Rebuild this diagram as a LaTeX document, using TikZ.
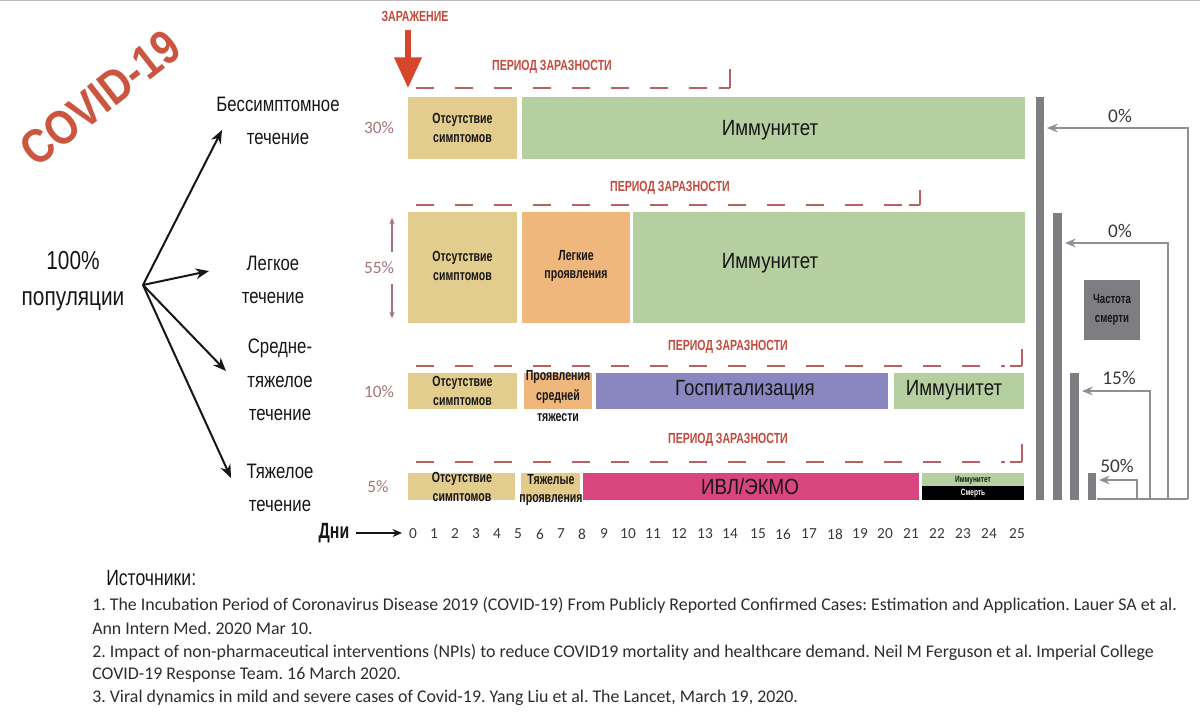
\documentclass[tikz,border=0pt]{standalone}
\usepackage{fontspec}
\setmainfont{Liberation Sans}
\newfontfamily\cndr[FakeStretch=0.8]{Liberation Sans}
\newfontfamily\cndm[FakeStretch=0.85]{Liberation Sans}
\newfontfamily\cndb[FakeStretch=0.72]{Liberation Sans}
\newfontfamily\stampf[FakeStretch=0.85]{Liberation Sans}
\newfontfamily\reff{Carlito}
\usetikzlibrary{arrows.meta}
\frenchspacing
\definecolor{tanc}{HTML}{E2CD8E}
\definecolor{orng}{HTML}{EFB77C}
\definecolor{grn}{HTML}{B6CFA0}
\definecolor{purp}{HTML}{8A86BF}
\definecolor{pnk}{HTML}{D9457F}
\definecolor{redt}{HTML}{C4493B}
\definecolor{stampc}{HTML}{CB553E}
\definecolor{arrc}{HTML}{D7462A}
\definecolor{dashc}{HTML}{B9615F}
\definecolor{pctc}{HTML}{A5747A}
\definecolor{bargray}{HTML}{7D7D82}
\definecolor{linegray}{HTML}{909094}
\definecolor{txt}{HTML}{161616}
\tikzset{
  bt/.style={font=\cndb\bfseries\fontsize{11}{14}\selectfont, text=txt, align=center, inner sep=0pt},
  bigt/.style={font=\cndm\fontsize{16.5}{18}\selectfont, text=txt, inner sep=0pt},
  cat/.style={font=\cndr\fontsize{15.7}{25}\selectfont, text=txt, align=center, inner sep=0pt},
  hdr/.style={font=\cndb\bfseries\fontsize{11}{13}\selectfont, text=redt, inner sep=0pt},
  pct/.style={font=\reff\fontsize{13}{15}\selectfont, text=pctc, inner sep=0pt},
  rpct/.style={font=\reff\fontsize{14.5}{16}\selectfont, text=txt!85!white, inner sep=0pt},
  day/.style={font=\reff\fontsize{11.5}{13}\selectfont, text=txt!85!white, inner sep=0pt},
  reft/.style={font=\reff\fontsize{13.4}{15}\selectfont, text=txt!90!white, inner sep=0pt, anchor=west},
  infect/.style={draw=dashc, line width=1.9pt, dash pattern=on 13.5pt off 15.75pt},
  infectend/.style={draw=dashc, line width=1.9pt},
  infecttick/.style={draw=dashc, line width=1.1pt},
  branch/.style={draw=txt, line width=1.5pt, -{Stealth[length=10pt,width=8pt]}},
  gline/.style={draw=linegray, line width=1.4pt},
  garrow/.style={draw=linegray, line width=1.4pt, -{Stealth[length=8pt,width=6.5pt]}},
}
\begin{document}
\begin{tikzpicture}[x=0.75pt,y=-0.75pt]
\useasboundingbox (0,0) rectangle (1200,715);
\draw[draw=black!25, line width=1pt] (0,0.5) -- (1200,0.5);

% COVID-19 stamp
\node[font=\stampf\bfseries\fontsize{36}{40}\selectfont, text=stampc, rotate=38, inner sep=0pt] (stamp) at (100,98) {COVID-19};

% population and branches
\node[font=\cndr\fontsize{19.5}{27}\selectfont, text=txt, align=center, inner sep=0pt] (pop) at (73,281) {100\%\\популяции};
\coordinate (src) at (143,285);
\node[cat] (c1) at (278,121) {Бессимптомное\\течение};
\node[cat] (c2) at (273,280) {Легкое\\течение};
\node[cat] (c3) at (280,380) {Средне-\\тяжелое\\течение};
\node[cat] (c4) at (280,488) {Тяжелое\\течение};
\coordinate (t1) at (222,130);
\coordinate (t2) at (209,271);
\coordinate (t3) at (226,371);
\coordinate (t4) at (231,478);
\draw[branch] (src) -- (t1);
\draw[branch] (src) -- (t2);
\draw[branch] (src) -- (t3);
\draw[branch] (src) -- (t4);

% infection marker
\node[hdr] (zar) at (415,16) {ЗАРАЖЕНИЕ};
\coordinate (za) at (408,30);
\coordinate (zb) at (408,88);
\draw[draw=arrc, line width=3.8pt, -{Triangle[length=23pt,width=20pt]}] (za) -- (zb);

% percentages
\node[pct] (p1) at (379,128) {30\%};
\node[pct] (p2) at (379,268) {55\%};
\node[pct] (p3) at (379,392) {10\%};
\node[pct] (p4) at (378,487) {5\%};
\draw[draw=pctc, line width=0.8pt, -{Stealth[length=5pt,width=4pt]}] (p2.north) ++(13,-10) coordinate (u1) -- ++(0,-34) coordinate (u2);
\draw[draw=pctc, line width=0.8pt, -{Stealth[length=5pt,width=4pt]}] (p2.south) ++(13,10) coordinate (d1) -- ++(0,34) coordinate (d2);

% ---------- row 1
\node[hdr] (h1) at (552,67) {ПЕРИОД ЗАРАЗНОСТИ};
\draw[infect] (416,88) -- (712,88);
\draw[infectend] (719,88) -- (730,88);
\draw[infecttick] (730,88) -- (730,69);
\fill[tanc] (408,97) rectangle (517,159);
\fill[grn] (522,97) rectangle (1025,159);
\node[bt] (r1a) at (462.5,128) {Отсутствие\\симптомов};
\node[bigt] (r1b) at (770,130) {Иммунитет};

% ---------- row 2
\node[hdr] (h2) at (670,188) {ПЕРИОД ЗАРАЗНОСТИ};
\draw[infect] (416,205) -- (905,205);
\draw[infectend] (909,205) -- (920,205);
\draw[infecttick] (920,205) -- (920,190);
\fill[tanc] (408,212) rectangle (517,323);
\fill[orng] (522,212) rectangle (630,323);
\fill[grn] (633,212) rectangle (1025,323);
\node[bt] (r2a) at (462.5,266) {Отсутствие\\симптомов};
\node[bt] (r2b) at (576,266) {Легкие\\проявления};
\node[bigt] (r2c) at (770,263) {Иммунитет};

% ---------- row 3
\node[hdr] (h3) at (728,347) {ПЕРИОД ЗАРАЗНОСТИ};
\draw[infect] (416,366) -- (1005,366);
\draw[infectend] (1010,366) -- (1022,366);
\draw[infecttick] (1022,366) -- (1022,349);
\fill[tanc] (408,373) rectangle (517,409);
\fill[orng] (524,373) rectangle (592,409);
\fill[purp] (596,373) rectangle (888,409);
\fill[grn] (894,373) rectangle (1024,409);
\node[bt] (r3a) at (462.5,391) {Отсутствие\\симптомов};
\node[bt, font=\cndb\bfseries\fontsize{11}{15.5}\selectfont] (r3b) at (558,396) {Проявления\\средней\\тяжести};
\node[bigt] (r3c) at (745,390) {Госпитализация};
\node[bigt] (r3d) at (954,390) {Иммунитет};

% ---------- row 4
\node[hdr] (h4) at (728,440) {ПЕРИОД ЗАРАЗНОСТИ};
\draw[infect] (416,462) -- (1005,462);
\draw[infectend] (1010,462) -- (1022,462);
\draw[infecttick] (1022,462) -- (1022,444);
\fill[tanc] (408,473) rectangle (515,500);
\fill[tanc!85!orng] (521,473) rectangle (580,500);
\fill[pnk] (583,473) rectangle (919,500);
\fill[grn] (922,473) rectangle (1024,486);
\fill[black] (922,486) rectangle (1024,500);
\node[bt] (r4a) at (462,487) {Отсутствие\\симптомов};
\node[bt] (r4b) at (551,490) {Тяжелые\\проявления};
\node[bigt] (r4c) at (750,487) {ИВЛ/ЭКМО};
\node[font=\cndb\bfseries\fontsize{6.8}{7}\selectfont, text=txt, inner sep=0pt] (r4d) at (973,480) {Иммунитет};
\node[font=\cndb\bfseries\fontsize{6.8}{7}\selectfont, text=white, inner sep=0pt] (r4e) at (973,493) {Смерть};

% ---------- days axis
\node[font=\cndb\bfseries\fontsize{16.5}{18}\selectfont, text=txt, inner sep=0pt] (dni) at (334,533) {Дни};
\coordinate (dstart) at (356,533);
\coordinate (dend) at (402,533);
\draw[draw=txt, line width=1.1pt, -{Stealth[length=7pt,width=6pt]}] (dstart) -- (dend);
\foreach \d/\x in {0/413,1/434,2/455,3/476,4/497,5/518,6/540,7/561,8/582,9/604,10/628,11/653,12/679,13/705,14/730,15/758,16/783,17/809,18/835,19/860,20/885,21/911,22/937,23/963,24/989,25/1017}
  \node[day] (day\d) at (\x,534) {\d};

% ---------- mortality bars
\fill[bargray] (1036,97) rectangle (1044,500);
\fill[bargray] (1053,213) rectangle (1062,500);
\fill[bargray] (1070,373) rectangle (1079,500);
\fill[bargray] (1088,473) rectangle (1096,500);
\coordinate (base0) at (1097,499);
\coordinate (c0) at (1188,499);
\draw[gline] (base0) -- (c0);
\coordinate (v1) at (1188,128);
\coordinate (e1) at (1047,128);
\draw[garrow] (c0) -- (v1) -- (e1);
\coordinate (b2) at (1168,499);
\coordinate (v2) at (1168,243);
\coordinate (e2) at (1065,243);
\draw[garrow] (b2) -- (v2) -- (e2);
\coordinate (b3) at (1150,499);
\coordinate (v3) at (1150,391);
\coordinate (e3) at (1082,391);
\draw[garrow] (b3) -- (v3) -- (e3);
\coordinate (b4) at (1137,499);
\coordinate (v4) at (1137,480);
\coordinate (e4) at (1099,480);
\draw[garrow] (b4) -- (v4) -- (e4);
\node[rpct] (m1) at (1120,116) {0\%};
\node[rpct] (m2) at (1120,231) {0\%};
\node[rpct] (m3) at (1119,378) {15\%};
\node[rpct] (m4) at (1117,466) {50\%};
\fill[bargray] (1084,280) rectangle (1140,340);
\node[font=\cndb\bfseries\fontsize{10}{14}\selectfont, text=txt, align=center, inner sep=0pt] (freq) at (1112,310) {Частота\\смерти};

% ---------- sources
\node[font=\cndr\fontsize{16.5}{18}\selectfont, text=txt, inner sep=0pt, anchor=west] (src0) at (106,578) {Источники:};
\node[reft] (s1) at (92,605) {1. The Incubation Period of Coronavirus Disease 2019 (COVID-19) From Publicly Reported Confirmed Cases: Estimation and Application. Lauer SA et al.};
\node[reft] (s2) at (92,628) {Ann Intern Med. 2020 Mar 10.};
\node[reft] (s3) at (92,652) {2. Impact of non-pharmaceutical interventions (NPIs) to reduce COVID19 mortality and healthcare demand. Neil M Ferguson et al. Imperial College};
\node[reft] (s4) at (92,675) {COVID-19 Response Team. 16 March 2020.};
\node[reft] (s5) at (92,698) {3. Viral dynamics in mild and severe cases of Covid-19. Yang Liu et al. The Lancet, March 19, 2020.};
\end{tikzpicture}
\end{document}
